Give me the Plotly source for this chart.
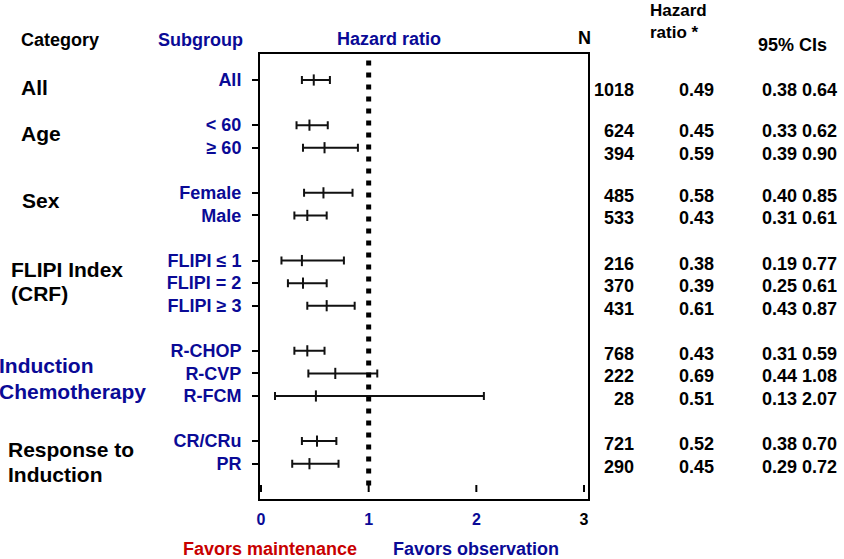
import plotly.graph_objects as go

# ---------------- data ----------------
groups = [
    ("All", ["All"]),
    ("Age", ["< 60", "≥ 60"]),
    ("Sex", ["Female", "Male"]),
    ("FLIPI", ["FLIPI ≤ 1", "FLIPI = 2", "FLIPI ≥ 3"]),
    ("Induction", ["R-CHOP", "R-CVP", "R-FCM"]),
    ("Response", ["CR/CRu", "PR"]),
]
n_patients = [1018, 624, 394, 485, 533, 216, 370, 431, 768, 222, 28, 721, 290]
hazard = [0.49, 0.45, 0.59, 0.58, 0.43, 0.38, 0.39, 0.61, 0.43, 0.69, 0.51, 0.52, 0.45]
ci_low = [0.38, 0.33, 0.39, 0.40, 0.31, 0.19, 0.25, 0.43, 0.31, 0.44, 0.13, 0.38, 0.29]
ci_high = [0.64, 0.62, 0.90, 0.85, 0.61, 0.77, 0.61, 0.87, 0.59, 1.08, 2.07, 0.70, 0.72]
x_ticks = [0, 1, 2, 3]

# row positions: one row per subgroup, one empty row between groups
subgroups, rows = [], []
r = 0
for _, subs in groups:
    for s in subs:
        subgroups.append(s)
        rows.append(r)
        r += 1
    r += 1

# ---------------- style ----------------
BLUE = "#0a0a96"
RED = "#c80000"
BLACK = "#000000"
FONT = "Liberation Sans, Arial, sans-serif"

W_FIG, H_FIG = 844, 559
L, T, R, B = 260, 54, 588, 499
PW, PH = R - L, B - T


def px(x):
    return (x - L) / PW


def py(y):
    return 1 - (y - T) / PH


fig = go.Figure()

fig.add_trace(go.Scatter(
    x=hazard, y=rows, mode="markers",
    marker=dict(symbol="line-ns", size=8, color=BLACK,
                line=dict(width=2, color="#111111")),
    error_x=dict(type="data", symmetric=False,
                 array=[h - m for h, m in zip(ci_high, hazard)],
                 arrayminus=[m - l for m, l in zip(hazard, ci_low)],
                 color="#111111", thickness=2, width=4),
    hoverinfo="skip", showlegend=False, cliponaxis=False,
))

shapes = []
# reference line at HR = 1
shapes.append(dict(type="line", xref="x", yref="paper", x0=1, x1=1,
                   y0=py(60.5), y1=py(486), line=dict(color=BLACK, width=5, dash="5px,7px")))
# small x ticks floating above bottom border
for v in x_ticks:
    shapes.append(dict(type="line", xref="x", yref="paper", x0=v, x1=v,
                       y0=py(485), y1=py(492), line=dict(color=BLACK, width=2)))
fig.update_layout(shapes=shapes)

ann = []


def text(t, x, y, size, color=BLACK, anchor="left", yref="paper"):
    ann.append(dict(text=t, x=x, y=y, xref="paper", yref=yref, showarrow=False,
                    xanchor=anchor, yanchor="middle", align=anchor if anchor != "center" else "center",
                    font=dict(family=FONT, size=size, color=color, weight="bold")))


# headers
text("Category", px(19), py(40), 18)
text("Subgroup", px(245), py(39.5), 18, BLUE, "right")
text("Hazard ratio", px(389), py(39), 18, BLUE, "center")
text("N", px(584), py(38.5), 18, BLACK, "center")
text("Hazard<br>ratio *", px(648), py(21), 17)
text("95% CIs", px(756), py(44.5), 18)

# category labels
cat_lines = [
    ("All", 19, 87, BLACK), ("Age", 19, 133, BLACK), ("Sex", 20, 200, BLACK),
    ("FLIPI Index", 9, 269.5, BLACK), ("(CRF)", 9, 293, BLACK),
    ("Induction", -3, 365, BLUE), ("Chemotherapy", -3, 391, BLUE),
    ("Response to", 6, 449.5, BLACK), ("Induction", 6, 474.5, BLACK),
]
for t, x, y, c in cat_lines:
    text(t, px(x), py(y), 21, c)

# table values
for i, rr in enumerate(rows):
    shift = 10 if i == 0 else (6 if i in (1, 2) else 3)
    for val, xr in ((str(n_patients[i]), 636), (f"{hazard[i]:.2f}", 716),
                    (f"{ci_low[i]:.2f} {ci_high[i]:.2f}", 839)):
        ann.append(dict(text=val, x=px(xr), y=rr, xref="paper", yref="y",
                        yshift=-shift, showarrow=False, xanchor="right", yanchor="middle",
                        font=dict(family=FONT, size=18, color=BLACK, weight="bold")))

# favors labels
text("Favors maintenance", px(270), py(549), 18, RED, "center")
text("Favors observation", px(476), py(549), 18, BLUE, "center")

fig.update_layout(annotations=ann)

y_top = (T - 80) / 22.57
y_bot = (B - 80) / 22.57
x0 = (L - 261) / 107.67
x1 = (R - 261) / 107.67

fig.update_layout(
    width=W_FIG, height=H_FIG,
    margin=dict(l=L, r=W_FIG - R, t=T, b=H_FIG - B, pad=0),
    paper_bgcolor="white", plot_bgcolor="white",
    font=dict(family=FONT),
    xaxis=dict(range=[x0, x1], showgrid=False, zeroline=False,
               showline=True, linecolor=BLACK, linewidth=2, mirror=True,
               tickvals=x_ticks,
               ticktext=[str(v) if v != 3 else f"<span style='color:black'>{v}</span>" for v in x_ticks],
               ticks="", ticklabelstandoff=5,
               tickfont=dict(family=FONT, size=16, color=BLUE, weight="bold"),
               fixedrange=True, automargin=False),
    yaxis=dict(range=[y_bot, y_top], showgrid=False, zeroline=False,
               showline=True, linecolor=BLACK, linewidth=2, mirror=True,
               tickvals=rows, ticktext=subgroups,
               ticks="outside", ticklen=6, tickwidth=2, tickcolor=BLACK,
               ticklabelstandoff=7,
               tickfont=dict(family=FONT, size=18, color=BLUE, weight="bold"),
               fixedrange=True, automargin=False),
)

fig.write_html("out.html")
